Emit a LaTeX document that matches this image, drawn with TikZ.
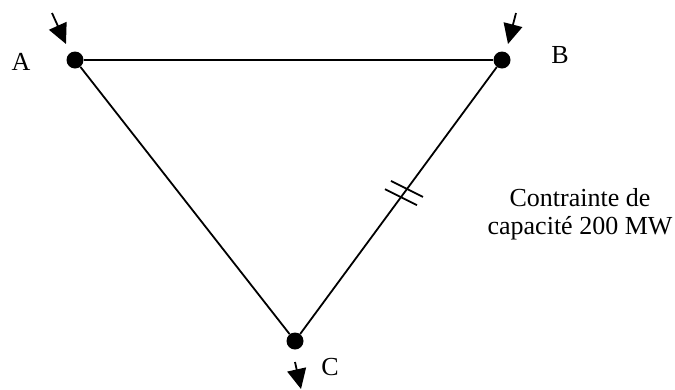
\documentclass[tikz,border=0pt]{standalone}
\usepackage{fontspec}
\setmainfont{Liberation Serif}
\usetikzlibrary{arrows.meta,calc}
\tikzset{
  bus/.style={circle, fill=black, inner sep=0pt, minimum size=17pt},
  buslabel/.style={inner sep=0pt, font=\fontsize{26}{28}\selectfont},
  ligne/.style={line width=1.8pt},
  injection/.style={line width=1.8pt, -{Triangle[length=20pt,width=19pt]}},
}

\begin{document}
\begin{tikzpicture}[x=1pt, y=-1pt]
    \useasboundingbox (0,0) rectangle (675,389);
    % noeuds du reseau
    \node[bus] (A) at (75,60) {};
    \node[bus] (B) at (502,60) {};
    \node[bus] (C) at (295,341) {};
    \node[buslabel] (labA) at (21,62) {A};
    \node[buslabel] (labB) at (560,55) {B};
    \node[buslabel] (labC) at (330,367) {C};
    % lignes
    \draw[ligne] (A) -- (B);
    \draw[ligne] (A) -- (C);
    \draw[ligne] (B) -- (C);
    % ligne contrainte
    \path (B.center) -- (C.center) coordinate[pos=0.459] (t1) coordinate[pos=0.488] (t2);
    \draw[ligne] ($(t1)+(-16,-8)$) -- ($(t1)+(16,8)$);
    \draw[ligne] ($(t2)+(-16,-8)$) -- ($(t2)+(16,8)$);
    \node[buslabel, align=center] (contrainte) at (580,214)
      {Contrainte de\\capacité 200 MW};
    % injections / soutirage
    \coordinate (inA) at (52,13);
    \coordinate (tipA) at (66,44);
    \coordinate (inB) at (516,13);
    \coordinate (tipB) at (508,44);
    \coordinate (outC) at (295,362);
    \coordinate (tipC) at (301,389);
    \draw[injection] (inA) -- (tipA);
    \draw[injection] (inB) -- (tipB);
    \draw[injection] (outC) -- (tipC);
\end{tikzpicture}
\end{document}
